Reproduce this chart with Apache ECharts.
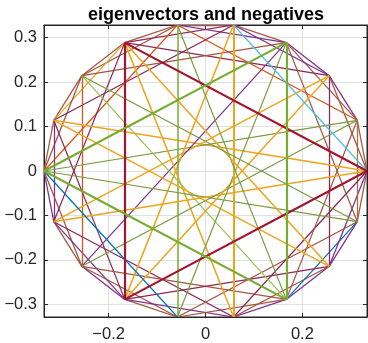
<!DOCTYPE html>
<html><head><meta charset="utf-8">
<script src="https://cdn.jsdelivr.net/npm/echarts/dist/echarts.min.js"></script>
<style>html,body{margin:0;padding:0;background:#fff}#c{width:368px;height:343px}</style>
</head><body><div id="c"></div>
<script>
// 18 points on the circle
const vertexX = [0.3333, 0.3132, 0.2553, 0.1667, 0.0579, -0.0579, -0.1667, -0.2553, -0.3132, -0.3333, -0.3132, -0.2553, -0.1667, -0.0579, 0.0579, 0.1667, 0.2553, 0.3132];
const vertexY = [0, 0.1140, 0.2143, 0.2887, 0.3283, 0.3283, 0.2887, 0.2143, 0.1140, 0, -0.1140, -0.2143, -0.2887, -0.3283, -0.3283, -0.2887, -0.2143, -0.1140];
const xTicks = [-0.2, 0, 0.2];
const yTicks = [-0.3, -0.2, -0.1, 0, 0.1, 0.2, 0.3];

// segments as vertex index pairs
const step1Pairs = [[0,1],[1,2],[2,3],[3,4],[4,5],[5,6],[6,7],[7,8],[8,9],[9,10],[10,11],[11,12],[12,13],[13,14],[14,15],[15,16],[16,17],[17,0]];
const step2Pairs = [[0,2],[1,3],[2,4],[3,5],[4,6],[5,7],[6,8],[7,9],[8,10],[9,11],[10,12],[11,13],[12,14],[13,15],[14,16],[15,17],[16,0],[17,1]];
const step4Pairs = [[0,4],[1,5],[2,6],[3,7],[4,8],[5,9],[6,10],[7,11],[8,12],[9,13],[10,14],[11,15],[12,16],[13,17],[14,0],[15,1],[16,2],[17,3]];
const step8Pairs = [[0,8],[1,9],[2,10],[3,11],[4,12],[5,13],[6,14],[7,15],[8,16],[9,17],[10,0],[11,1],[12,2],[13,3],[14,4],[15,5],[16,6],[17,7]];
const triangleAPairs = [[0,6],[6,12],[12,0]];
const triangleBPairs = [[9,15],[15,3],[3,9]];

// styles (kept apart from the data)
const PAL = {B:'#0072BD', O:'#D95319', Y:'#EDA41E', P:'#7E2F8E', G:'#77AC30', L:'#4DBEEE', R:'#A2142F',
             BR:'#A3563F', M:'#8A2858', TN:'#B46A3A', OL:'#789A3E', LG:'#96C050'};
const step1Colors = ['BR','P','P','BR','BR','BR','BR','BR','BR','P','BR','P','BR','BR','P','P','P','BR'];
const step2Colors = ['BR','BR','P','P','M','BR','Y','BR','P','BR','P','BR','P','BR','BR','B','P','TN'];
const step4Colors = ['L','O','M','BR','M','O','M','O','M','B','M','BR','M','BR','M','BR','M','BR'];
const step8Colors = ['Y','OL','Y','P','Y','G','Y','LG','Y','OL','Y','OL','Y','OL','Y','OL','Y','OL'];
const step8Widths = [1.5,1.2,1.5,1.2,1.5,1.5,1.5,1.2,1.5,1.2,1.5,1.2,1.5,1.2,2,1.2,1.5,1.2];

function seg(pairs, colors, width) {
  return pairs.map((p, i) => ({
    coords: [[vertexX[p[0]], vertexY[p[0]]], [vertexX[p[1]], vertexY[p[1]]]],
    lineStyle: {color: PAL[Array.isArray(colors) ? colors[i] : colors], width: Array.isArray(width) ? width[i] : width, opacity: 1}
  }));
}
const step4Segs = seg(step4Pairs, step4Colors, 1.25);
// blue / light-blue chords sit on top in the reference
const isTop = c => c === 'L' || c === 'B';
const step4Top = step4Segs.filter((s, i) => isTop(step4Colors[i]));
const step4Rest = step4Segs.filter((s, i) => !isTop(step4Colors[i]));
const segs = [].concat(
  seg(step1Pairs, step1Colors, 1.25),
  seg(step2Pairs, step2Colors, 1.25),
  step4Rest,
  seg(step8Pairs, step8Colors, step8Widths),
  step4Top,
  seg(triangleAPairs, 'R', 2.2),
  seg(triangleBPairs, 'G', 2.2)
);

const fmt = v => { const s = (Math.round(v * 10) / 10).toString(); return s.replace('-', '\u2212'); };
const axisCol = '#262626';
const chart = echarts.init(document.getElementById('c'), null, {renderer: 'canvas'});
chart.setOption({
  animation: false,
  grid: {left: 44, top: 25, width: 323, height: 292, show: true, borderColor: axisCol, borderWidth: 1, backgroundColor: 'transparent'},
  graphic: [{type: 'text', x: 206, y: 15, style: {text: 'eigenvectors and negatives', textAlign: 'center', textVerticalAlign: 'middle', font: 'bold 18px "Liberation Sans", Arial, sans-serif', fill: '#000'}}],
  xAxis: [
    {type: 'value', min: -1/3, max: 1/3, position: 'bottom',
     axisLine: {show: true, onZero: false, lineStyle: {color: axisCol, width: 1}},
     axisTick: {show: true, inside: true, length: 4, customValues: xTicks, lineStyle: {color: axisCol}},
     axisLabel: {customValues: xTicks, formatter: fmt, color: axisCol, fontSize: 16.5, fontFamily: '"Liberation Sans", Arial, sans-serif', margin: 9},
     splitLine: {show: true, lineStyle: {color: '#DFDFDF', width: 1}}},
    {type: 'value', min: -1/3, max: 1/3, position: 'top',
     axisLine: {show: true, onZero: false, lineStyle: {color: axisCol, width: 1}},
     axisTick: {show: true, inside: true, length: 4, customValues: xTicks, lineStyle: {color: axisCol}},
     axisLabel: {show: false}, splitLine: {show: false}}
  ],
  yAxis: [
    {type: 'value', min: -0.3283, max: 0.3283, position: 'left',
     axisLine: {show: true, onZero: false, lineStyle: {color: axisCol, width: 1}},
     axisTick: {show: true, inside: true, length: 4, customValues: yTicks, lineStyle: {color: axisCol}},
     axisLabel: {customValues: yTicks, formatter: fmt, color: axisCol, fontSize: 16.5, fontFamily: '"Liberation Sans", Arial, sans-serif', margin: 7},
     splitLine: {show: true, lineStyle: {color: '#DFDFDF', width: 1}}},
    {type: 'value', min: -0.3283, max: 0.3283, position: 'right',
     axisLine: {show: true, onZero: false, lineStyle: {color: axisCol, width: 1}},
     axisTick: {show: true, inside: true, length: 4, customValues: yTicks, lineStyle: {color: axisCol}},
     axisLabel: {show: false}, splitLine: {show: false}}
  ],
  series: [{
    type: 'lines', coordinateSystem: 'cartesian2d', xAxisIndex: 0, yAxisIndex: 0,
    polyline: false, silent: true, z: 3, data: segs
  }]
});
</script></body></html>
